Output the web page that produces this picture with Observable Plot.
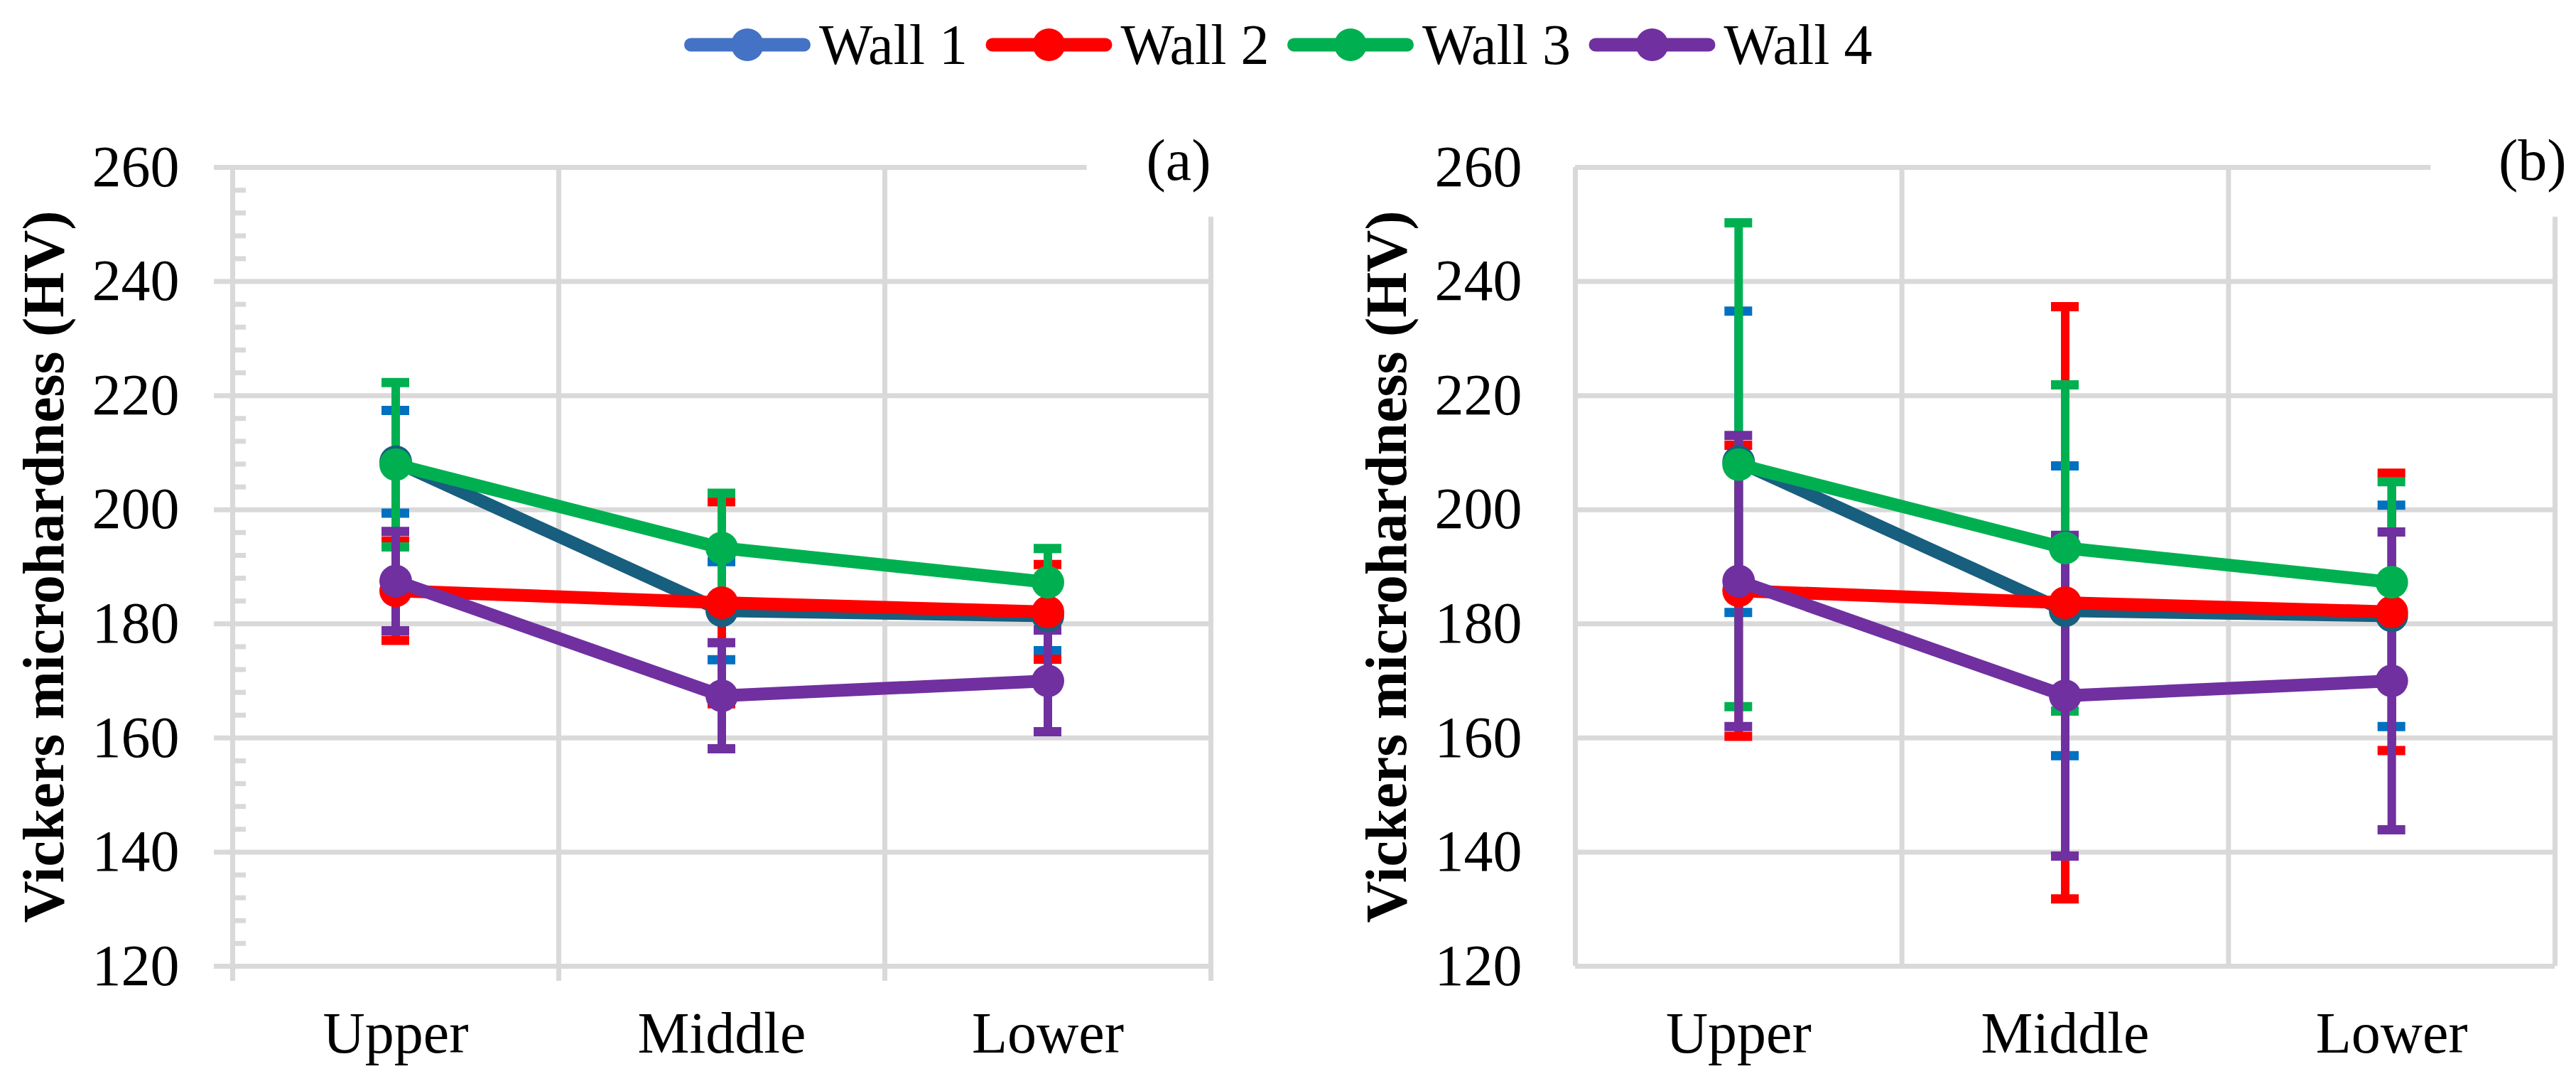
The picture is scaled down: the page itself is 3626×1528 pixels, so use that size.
<!DOCTYPE html>
<html>
<head>
<meta charset="utf-8">
<script src="https://cdn.jsdelivr.net/npm/d3@7"></script>
<script src="https://cdn.jsdelivr.net/npm/@observablehq/plot@0.6"></script>
<style>
  body { margin: 0; background: #fff; font-family: "Liberation Serif", "DejaVu Serif", "Noto Serif", serif; }
  svg { display: block; }
  #charts { display: flex; }
</style>
</head>
<body>
<div id="legend"></div>
<div id="charts"><div id="a"></div><div id="b"></div></div>
<script>
// positions along the wall
const categories = ["Upper", "Middle", "Lower"];
const walls = ["Wall 1", "Wall 2", "Wall 3", "Wall 4"];

// mean Vickers microhardness (HV), same in both panels
const wall1 = [208.4, 182.3, 181.4];
const wall2 = [185.8, 183.7, 182.1];
const wall3 = [207.9, 193.3, 187.3];
const wall4 = [187.5, 167.4, 170.0];

// error bar half-widths, panel (a) and panel (b)
const errorsA = [[9.0, 8.6, 6.1], [8.7, 17.7, 8.3], [14.4, 9.6, 5.9], [8.7, 9.3, 8.9]];
const errorsB = [[26.4, 25.4, 19.4], [25.5, 51.9, 24.3], [42.4, 28.6, 17.6], [25.5, 28.1, 26.1]];

const yTicks = [120, 140, 160, 180, 200, 220, 240, 260];
const xGrid = [-0.5, 0.5, 1.5, 2.5];
const minorTicks = d3.range(120, 261, 4).filter(v => v % 20 !== 0);

const means = [wall1, wall2, wall3, wall4];
const lineColors = ["#175E7F", "#FF0000", "#00B050", "#7030A0"];
const barColors = ["#0070C0", "#FF0000", "#00B050", "#7030A0"];
const legendColors = ["#4472C4", "#FF0000", "#00B050", "#7030A0"];
const gridColor = "#D9D9D9";
const font = "'Liberation Serif', 'DejaVu Serif', 'Noto Serif', serif";

// legend
const lg = d3.select("#legend").append("svg").attr("width", 3626).attr("height", 110);
walls.forEach((w, k) => {
  const x0 = 963 + k * 424.5;
  lg.append("line")
    .attr("x1", x0 + 9.5).attr("x2", x0 + 168.5).attr("y1", 63).attr("y2", 63)
    .attr("stroke", legendColors[k]).attr("stroke-width", 19).attr("stroke-linecap", "round");
  lg.append("circle").attr("cx", x0 + 89).attr("cy", 63).attr("r", 23).attr("fill", legendColors[k]);
  lg.append("text").attr("x", x0 + 190).attr("y", 90)
    .style("font-family", font).attr("font-size", 80).attr("fill", "black").text(w);
});

function panel(errors, letter, marginLeft, marginRight, excelTicks, labelDx) {
  const marks = [];
  marks.push(Plot.ruleY(yTicks, {stroke: gridColor, strokeWidth: 7, insetLeft: excelTicks ? -26 : 0}));
  marks.push(Plot.ruleX(xGrid, {stroke: gridColor, strokeWidth: 7, insetBottom: excelTicks ? -21 : 0}));
  if (excelTicks) {
    marks.push(Plot.ruleY(minorTicks, {x1: -0.5, x2: -0.5, insetRight: -19, stroke: gridColor, strokeWidth: 7}));
  }
  // white box behind the panel letter
  marks.push(Plot.rect([letter], {x1: 2.12, x2: 2.62, y1: 251.3, y2: 272, fill: "white"}));
  marks.push(Plot.axisY({ticks: yTicks, tickSize: 0, tickPadding: 75, fontSize: 82, fill: "black", label: null}));
  marks.push(Plot.axisX({ticks: [0, 1, 2], tickFormat: i => categories[i], tickSize: 0, tickPadding: 63, fontSize: 82, fill: "black", label: null}));
  marks.push(Plot.text(["Vickers microhardness (HV)"], {
    frameAnchor: "left", rotate: -90, dx: -265, fontSize: 82, fontWeight: "bold",
    textAnchor: "middle", lineAnchor: "middle", fill: "black"
  }));

  const series = means.map((m, s) => categories.map((c, i) => ({
    i, v: m[i], lo: m[i] - errors[s][i], hi: m[i] + errors[s][i]
  })));

  // error bars first (all series), then lines and markers
  series.forEach((rows, s) => {
    marks.push(Plot.ruleX(rows, {x: "i", y1: "lo", y2: "hi", stroke: barColors[s], strokeWidth: 12}));
    marks.push(Plot.ruleY(rows, {x1: "i", x2: "i", y: "hi", insetLeft: -19.5, insetRight: -19.5, stroke: barColors[s], strokeWidth: 13}));
    marks.push(Plot.ruleY(rows, {x1: "i", x2: "i", y: "lo", insetLeft: -19.5, insetRight: -19.5, stroke: barColors[s], strokeWidth: 13}));
  });
  series.forEach((rows, s) => {
    marks.push(Plot.line(rows, {x: "i", y: "v", stroke: lineColors[s], strokeWidth: 18, strokeLinejoin: "round"}));
    marks.push(Plot.dot(rows, {x: "i", y: "v", r: 23, fill: lineColors[s]}));
  });

  marks.push(Plot.text([letter], {
    frameAnchor: "top-right", text: d => d, textAnchor: "end", lineAnchor: "middle",
    dy: -9, dx: labelDx, fontSize: 82, fill: "black"
  }));

  return Plot.plot({
    width: 1813,
    height: 1418,
    marginTop: 125,
    marginBottom: 169,
    marginLeft,
    marginRight,
    x: {domain: [-0.5, 2.5], label: null},
    y: {domain: [120, 260], label: null},
    style: {fontFamily: font, background: "white", color: "black"},
    marks
  });
}

d3.select("#a").append(() => panel(errorsA, "(a)", 327, 109, true, 0));
d3.select("#b").append(() => panel(errorsB, "(b)", 404, 30, false, 16));
</script>
</body>
</html>
